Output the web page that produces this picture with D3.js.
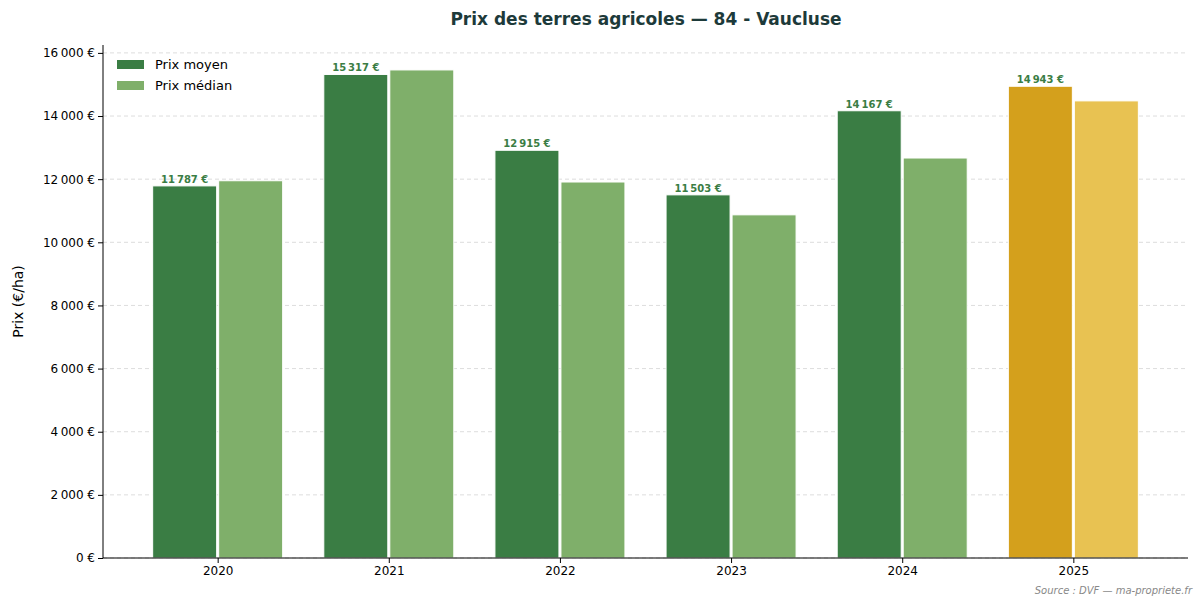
<!DOCTYPE html>
<html><head><meta charset="utf-8">
<script src="https://cdn.jsdelivr.net/npm/d3@7"></script>
<style>body{margin:0;background:#fff;font-family:"DejaVu Sans",sans-serif;}</style>
</head><body><svg id="c" width="1203" height="606"></svg>
<script>
const years = [2020, 2021, 2022, 2023, 2024, 2025];
const meanPrices = [11787, 15317, 12915, 11503, 14167, 14943];
const medianPrices = [11950, 15460, 11910, 10870, 12670, 14480];
const yTicks = [0, 2000, 4000, 6000, 8000, 10000, 12000, 14000, 16000];

const svg = d3.select("#c");
const m = {left: 103, right: 1188, top: 45, bottom: 558};
const fmt = v => d3.format(",")(v).replace(/,/g, "\u202f") + " €";

const x = d3.scaleLinear().domain([2019.33, 2025.67]).range([m.left, m.right]);
const y = d3.scaleLinear().domain([0, 16250]).range([m.bottom, m.top]);
const bw = 64;

// grid
svg.append("g").selectAll("line").data(yTicks).join("line")
  .attr("x1", m.left).attr("x2", m.right)
  .attr("y1", d => y(d)).attr("y2", d => y(d))
  .attr("stroke", "#ddd").attr("stroke-dasharray", "4,3");

const data = years.map((yr, i) => ({yr, mean: meanPrices[i], med: medianPrices[i], last: i === years.length - 1}));

// bars
svg.append("g").selectAll("rect").data(data).join("rect")
  .attr("x", d => x(d.yr) - bw - 1).attr("width", bw)
  .attr("y", d => y(d.mean)).attr("height", d => y(0) - y(d.mean))
  .attr("fill", d => d.last ? "#d4a01c" : "#3a7d44").attr("stroke", "#fff").attr("stroke-width", 1);
svg.append("g").selectAll("rect").data(data).join("rect")
  .attr("x", d => x(d.yr) + 1).attr("width", bw)
  .attr("y", d => y(d.med)).attr("height", d => y(0) - y(d.med))
  .attr("fill", d => d.last ? "#e8c252" : "#7faf6a").attr("stroke", "#fff").attr("stroke-width", 1);

// labels
svg.append("g").selectAll("text").data(data).join("text")
  .attr("x", d => x(d.yr) - bw / 2 - 1).attr("y", d => y(d.mean) - 3)
  .attr("text-anchor", "middle").attr("font-size", 10).attr("font-weight", "bold")
  .attr("fill", "#3a7d44").text(d => fmt(d.mean));

// axes
const yAxis = d3.axisLeft(y).tickValues(yTicks).tickFormat(fmt).tickSize(5);
const ga = svg.append("g").attr("transform", `translate(${m.left},0)`).call(yAxis);
ga.select(".domain").attr("d", `M0,${m.top}V${m.bottom}`);
ga.selectAll("text").attr("font-size", 12).attr("font-family", "DejaVu Sans").attr("fill", "#000");
const xAxis = d3.axisBottom(x).tickValues(years).tickFormat(d3.format("d")).tickSize(5);
const gx = svg.append("g").attr("transform", `translate(0,${m.bottom})`).call(xAxis);
gx.select(".domain").attr("d", `M${m.left},0H${m.right}`);
gx.selectAll("text").attr("font-size", 12).attr("font-family", "DejaVu Sans").attr("fill", "#000");

svg.append("text").attr("transform", `translate(23,${(m.top + m.bottom) / 2}) rotate(-90)`)
  .attr("text-anchor", "middle").attr("font-size", 14).text("Prix (€/ha)");
svg.append("text").attr("x", 646).attr("y", 25).attr("text-anchor", "middle")
  .attr("font-size", 17).attr("font-weight", "bold").attr("fill", "#1d3a3a")
  .text("Prix des terres agricoles — 84 - Vaucluse");
svg.append("text").attr("x", 1192).attr("y", 594).attr("text-anchor", "end")
  .attr("font-size", 10).attr("font-style", "italic").attr("fill", "#888")
  .text("Source : DVF — ma-propriete.fr");

// legend
const leg = [["Prix moyen", "#3a7d44"], ["Prix médian", "#7faf6a"]];
const lg = svg.append("g").selectAll("g").data(leg).join("g")
  .attr("transform", (d, i) => `translate(117,${60 + i * 21})`);
lg.append("rect").attr("width", 27).attr("height", 9).attr("fill", d => d[1]);
lg.append("text").attr("x", 38).attr("y", 9).attr("font-size", 13).text(d => d[0]);
</script></body></html>
